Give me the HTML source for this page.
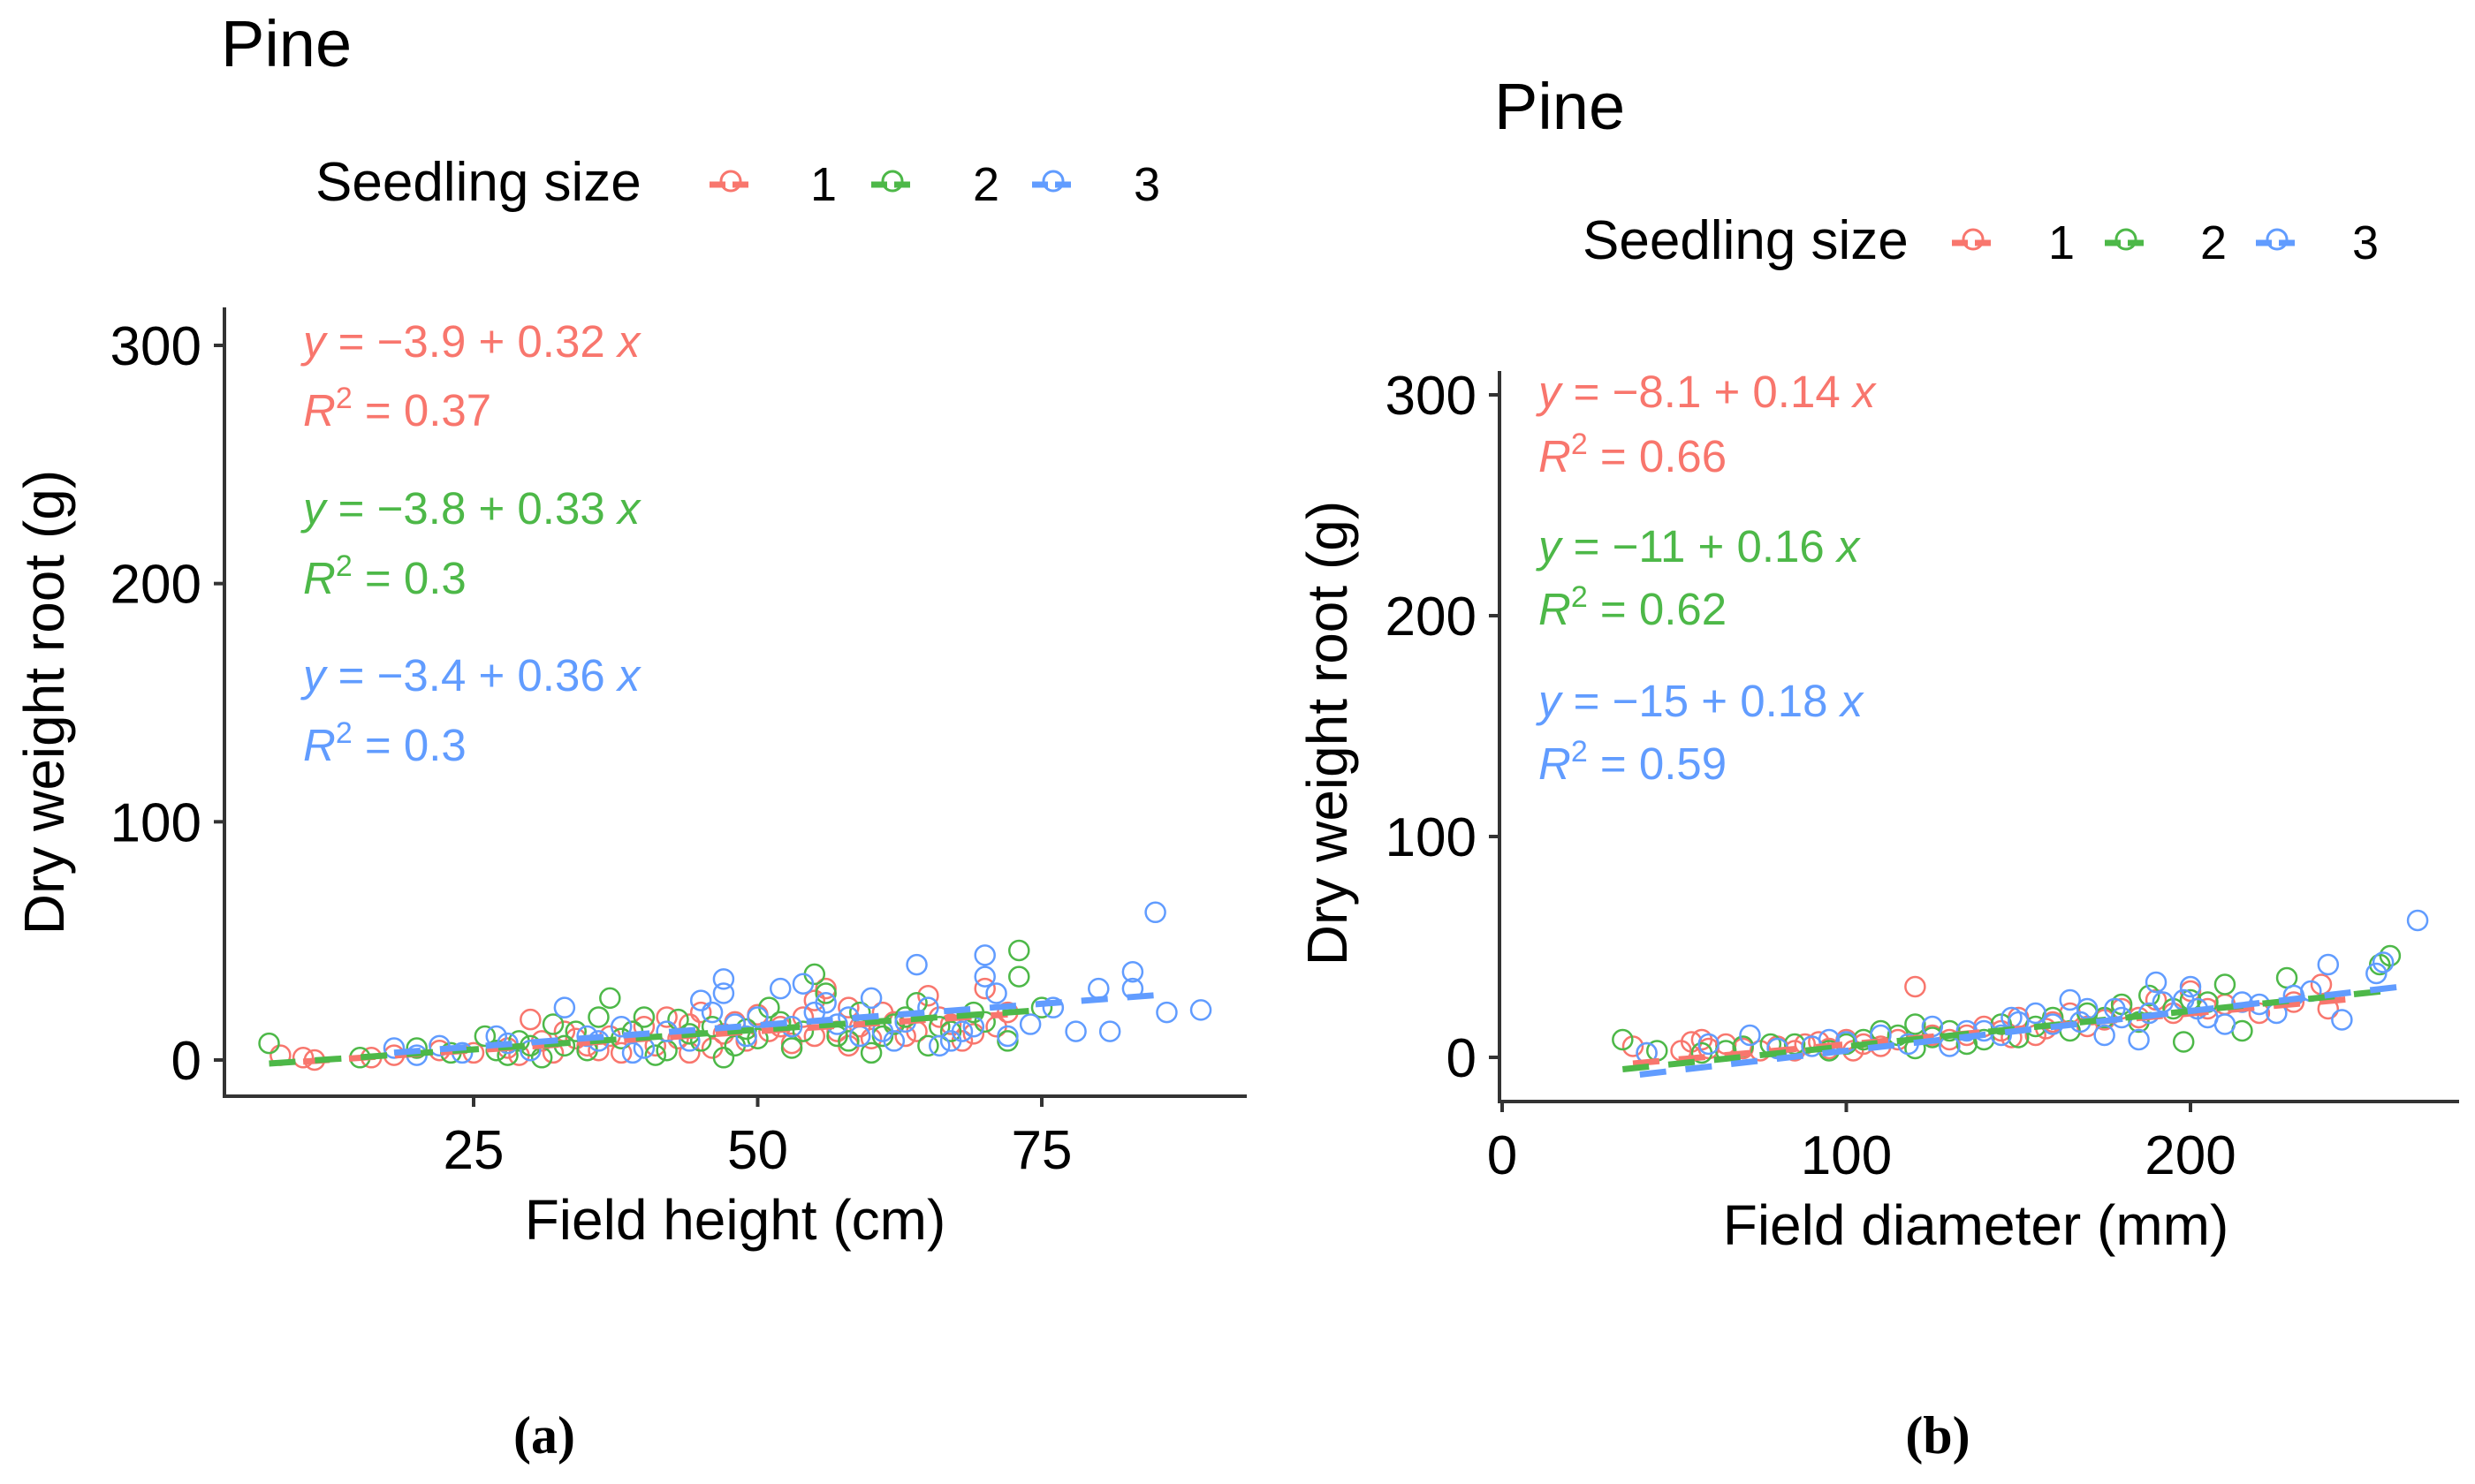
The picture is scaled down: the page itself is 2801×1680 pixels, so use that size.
<!DOCTYPE html>
<html><head><meta charset="utf-8">
<style>
html,body{margin:0;padding:0;background:#fff;}
svg{display:block;font-family:"Liberation Sans",sans-serif;}
</style></head>
<body>
<svg id="fig" width="2801" height="1680" viewBox="0 0 2801 1680" xmlns="http://www.w3.org/2000/svg">
<rect width="2801" height="1680" fill="#fff"/>
<g id="gA"></g>
<g id="gB"></g>
<text x="616" y="1645" text-anchor="middle" font-family="Liberation Serif" font-weight="bold" font-size="60">(a)</text>
<text x="2193" y="1645" text-anchor="middle" font-family="Liberation Serif" font-weight="bold" font-size="60">(b)</text>
</svg>
<script>
const colors=["#F8766D","#4DB848","#619CFF"];
const sizeLabels=["1","2","3"];
// Panel A data
const aRed=[[8,2],[10,1],[11,0],[16,1],[18,2],[22,4],[25,3],[28,5],[30,17],[31,8],[33,12],[35,6],[37,10],[40,14],[42,18],[43,9],[45,20],[47,11],[48,16],[50,19],[52,14],[53,7],[55,25],[56,30],[57,12],[58,22],[60,9],[62,16],[63,10],[65,27],[66,18],[68,8],[70,30],[71,14],[72,20],[46,5],[38,3],[54,18],[29,2],[34,9],[39,12],[41,6],[44,15],[49,8],[51,12],[55,10],[59,14],[61,20],[64,12],[67,15],[69,11],[36,4],[32,3],[44,3],[58,6]];
const aGreen=[[7,7],[15,1],[20,5],[23,3],[26,10],[28,2],[30,6],[32,15],[35,4],[37,26],[39,12],[41,2],[43,17],[45,8],[47,1],[49,13],[51,22],[53,5],[55,36],[57,10],[59,20],[60,3],[62,15],[64,24],[66,14],[69,20],[72,8],[73,46],[73,35],[75,22],[36,18],[50,9],[56,28],[27,4],[29,8],[33,6],[38,9],[40,18],[42,4],[44,11],[46,14],[48,6],[52,16],[54,12],[58,8],[61,10],[63,18],[65,6],[67,12],[70,16],[34,12],[31,1]];
const aBlue=[[18,5],[20,2],[22,6],[27,10],[30,4],[33,22],[36,8],[38,14],[40,5],[42,12],[45,25],[47,34],[48,15],[50,18],[52,30],[54,32],[55,20],[57,15],[59,10],[60,26],[62,8],[64,40],[66,6],[68,12],[70,44],[70,35],[71,28],[74,15],[76,22],[78,12],[80,30],[81,12],[83,37],[83,30],[85,62],[86,20],[89,21],[24,3],[28,7],[35,10],[39,3],[44,8],[46,20],[49,10],[53,14],[56,24],[58,18],[61,12],[63,16],[65,22],[67,8],[69,14],[72,10],[47,28]];
const aFits=[[-3.9,0.32,10,72],[-3.8,0.33,7,75],[-3.4,0.36,18,86]];
const aEq=[["−3.9","0.32","0.37"],["−3.8","0.33","0.3"],["−3.4","0.36","0.3"]];
const aXTicks=[25,50,75];
// Panel B data
const bRed=[[38,5],[42,2],[52,3],[55,7],[60,4],[65,6],[75,3],[80,5],[88,6],[95,4],[100,8],[110,5],[120,32],[125,10],[130,8],[140,14],[145,12],[150,18],[155,10],[160,16],[165,20],[170,14],[180,22],[185,18],[190,26],[200,30],[205,22],[220,20],[230,25],[240,22],[238,33],[58,8],[70,4],[85,3],[105,6],[115,8],[135,10],[148,9],[158,13],[175,17],[195,20],[210,24],[102,3],[92,7]];
const bGreen=[[35,8],[45,3],[58,2],[70,5],[85,6],[95,3],[105,8],[115,10],[120,4],[130,12],[135,6],[145,15],[150,9],[160,18],[170,20],[180,24],[188,28],[198,7],[205,25],[210,33],[215,12],[228,36],[255,42],[258,46],[120,15],[140,8],[65,3],[78,6],[100,6],[110,12],[125,9],[155,14],[165,12],[175,18],[185,16],[195,22],[200,26]];
const bBlue=[[42,2],[60,6],[72,10],[90,5],[100,7],[110,10],[125,14],[130,5],[135,12],[145,10],[155,20],[160,15],[165,26],[170,22],[175,10],[180,18],[190,34],[192,25],[200,32],[205,18],[210,15],[215,25],[225,20],[230,28],[240,42],[244,17],[254,38],[256,43],[266,62],[185,8],[150,16],[80,4],[95,8],[118,6],[140,12],[148,18],[168,16],[178,22],[188,20],[198,26],[202,22],[220,24],[235,30]];
const bFits=[[-8.1,0.14,38,245],[-11,0.16,35,260],[-15,0.18,40,265]];
const bEq=[["−8.1","0.14","0.66"],["−11","0.16","0.62"],["−15","0.18","0.59"]];
const bXTicks=[0,100,200];
const yTicks=[0,100,200,300];

const NS="http://www.w3.org/2000/svg";
function mk(parent,tag,attrs,text){const e=document.createElementNS(NS,tag);for(const k in attrs)e.setAttribute(k,attrs[k]);if(text!==undefined)e.textContent=text;parent.appendChild(e);return e;}

function panel(g,cfg){
  const xs=v=>cfg.x0+(v-cfg.xa)*(cfg.x1-cfg.x0)/(cfg.xb-cfg.xa);
  const ys=v=>cfg.y0+(v)*(cfg.y300-cfg.y0)/300;
  let t=mk(g,'text',{x:cfg.titleX,y:cfg.titleY,'font-size':74,fill:'#000'},'Pine');
  
  let lg=mk(g,'g',{});
  
  let lt=mk(lg,'text',{x:cfg.legX,y:cfg.legY,'font-size':62},'Seedling size');
  
  for(let i=0;i<3;i++){
    let e=mk(lg,'g',{});
    
    const kx=cfg.keys[i];
    mk(e,'line',{x1:kx-24,x2:kx+24,y1:cfg.legY-18,y2:cfg.legY-18,stroke:colors[i],'stroke-width':7,'stroke-dasharray':'18 8'});
    mk(e,'circle',{cx:kx,cy:cfg.legY-22,r:11,fill:'none',stroke:colors[i],'stroke-width':3});
    mk(e,'text',{x:cfg.labs[i],y:cfg.legY,'font-size':54},sizeLabels[i]);
  }
  let ax=mk(g,'g',{});
  
  mk(ax,'line',{x1:cfg.axX,x2:cfg.axX,y1:cfg.axTop,y2:cfg.axY+2,stroke:'#333','stroke-width':4});
  mk(ax,'line',{x1:cfg.axX-2,x2:cfg.axRight,y1:cfg.axY,y2:cfg.axY,stroke:'#333','stroke-width':4});
  yTicks.forEach(v=>{const y=ys(v);
    mk(ax,'line',{x1:cfg.axX-12,x2:cfg.axX,y1:y,y2:y,stroke:'#333','stroke-width':4});
    let tl=mk(ax,'text',{x:cfg.axX-26,y:y+22,'text-anchor':'end','font-size':62,fill:'#000'},String(v));
    
  });
  cfg.xt.forEach(v=>{const x=xs(v);
    mk(ax,'line',{x1:x,x2:x,y1:cfg.axY,y2:cfg.axY+12,stroke:'#333','stroke-width':4});
    let tl=mk(ax,'text',{x:x,y:cfg.axY+82,'text-anchor':'middle','font-size':62,fill:'#000'},String(v));
    
  });
  let xt=mk(ax,'text',{x:cfg.xtX,y:cfg.axY+162,'text-anchor':'middle','font-size':64},cfg.xTitle);
  
  let yt=mk(ax,'text',{x:0,y:0,'text-anchor':'middle','font-size':64,transform:`translate(${cfg.ytX},${cfg.ytY}) rotate(-90)`},'Dry weight root (g)');
  
  cfg.series.forEach((s,i)=>{
    let sg=mk(g,'g',{});
    
    s.forEach(p=>{let c=mk(sg,'circle',{cx:xs(p[0]),cy:ys(p[1]),r:11,fill:'none',stroke:colors[i],'stroke-width':2.5});
      });
  });
  cfg.fits.forEach((f,i)=>{
    let l=mk(g,'line',{x1:xs(f[2]),x2:xs(f[3]),y1:ys(f[0]+f[1]*f[2]),y2:ys(f[0]+f[1]*f[3]),stroke:colors[i],'stroke-width':7,'stroke-dasharray':'30 22'});
    
  });
  cfg.eq.forEach((q,i)=>{
    let eg=mk(g,'g',{fill:colors[i],'font-size':51});
    
    let e1=mk(eg,'text',{x:cfg.eqX,y:cfg.eqY[2*i]});
    mk(e1,'tspan',{'font-style':'italic'},'y');
    mk(e1,'tspan',{},' = '+q[0]+' + '+q[1]+' ');
    mk(e1,'tspan',{'font-style':'italic'},'x');
    let e2=mk(eg,'text',{x:cfg.eqX,y:cfg.eqY[2*i+1]});
    mk(e2,'tspan',{'font-style':'italic'},'R');
    mk(e2,'tspan',{dy:-20,'font-size':34},'2');
    mk(e2,'tspan',{dy:20},' = '+q[2]);
  });
}
panel(document.getElementById('gA'),{xa:25,xb:75,x0:536,x1:1179,y0:1200,y300:391,axX:254,axY:1241,axTop:348,axRight:1411,
  titleX:250,titleY:75,legX:357,legY:227,keys:[827,1010,1192],labs:[917,1101,1283],xt:aXTicks,xTitle:'Field height (cm)',xtX:832,ytX:72,ytY:795,
  series:[aRed,aGreen,aBlue],fits:aFits,eq:aEq,eqX:343,eqY:[404,482,593,672,782,861]});
panel(document.getElementById('gB'),{xa:0,xb:200,x0:1700,x1:2479,y0:1197,y300:447,axX:1697,axY:1247,axTop:420,axRight:2783,
  titleX:1691,titleY:146,legX:1791,legY:293,keys:[2233,2406,2577],labs:[2318,2490,2662],xt:bXTicks,xTitle:'Field diameter (mm)',xtX:2236,ytX:1524,ytY:830,
  series:[bRed,bGreen,bBlue],fits:bFits,eq:bEq,eqX:1741,eqY:[461,534,636,707,811,882]});
</script>
</body></html>
